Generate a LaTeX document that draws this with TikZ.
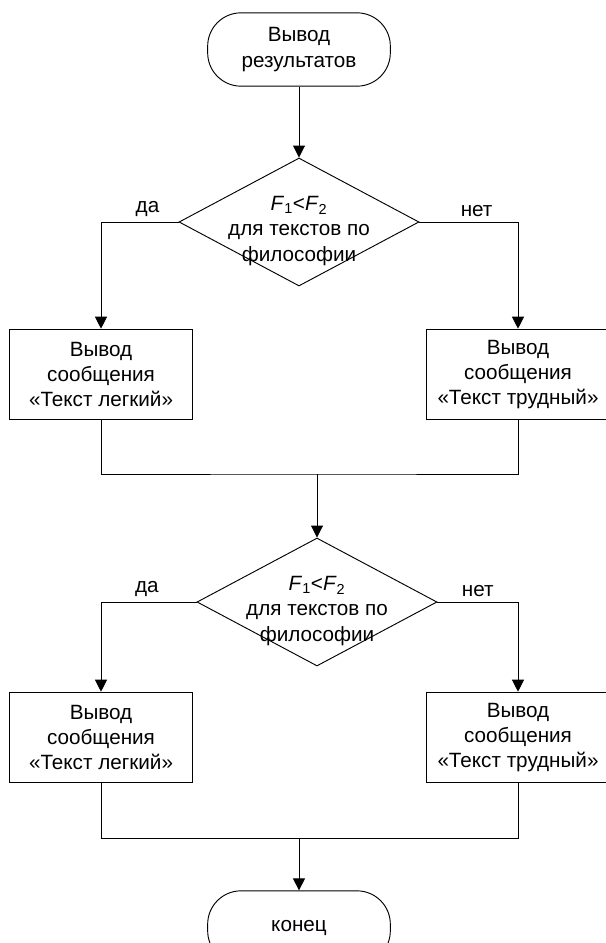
\documentclass[tikz,border=0pt]{standalone}
\usepackage{fontspec}
\setmainfont{Liberation Sans}
\usepackage{tikz}
\usetikzlibrary{shapes.geometric,arrows.meta}

\tikzset{
  term/.style={draw, rectangle, rounded corners=25pt, line width=0.7pt,
    minimum width=137pt, minimum height=55pt, align=center},
  outbox/.style={draw, rectangle, line width=0.7pt,
    minimum width=137pt, minimum height=68pt, align=center},
  cond/.style={draw, diamond, line width=0.7pt, inner sep=0pt,
    minimum width=180pt, minimum height=96pt},
  condtext/.style={align=center, inner sep=0pt},
  conn/.style={line width=0.7pt},
  arr/.style={line width=0.7pt, -{Triangle[width=9pt,length=9pt]}}
}

\begin{document}
\begin{tikzpicture}[x=0.75pt, y=-0.75pt, font=\fontsize{15.5}{19}\selectfont]
  \useasboundingbox (0,0) rectangle (606,943);

  % Start
  \node[term] (start) at (299,49.5) {Вывод\\результатов};

  % First condition
  \node[condtext] (cond1txt) at (299,231)
    {\textit{F}\textsubscript{1}<\textit{F}\textsubscript{2}\\для текстов по\\философии};
  \node[cond] (cond1) at (299,222) {};

  % Messages after first condition
  \node[outbox] (easy1) at (101,374.5) {Вывод\\сообщения\\«Текст легкий»};
  \node[outbox] (hard1) at (518,374.5) {Вывод\\сообщения\\«Текст трудный»};

  % Second condition
  \node[condtext] (cond2txt) at (317,611)
    {\textit{F}\textsubscript{1}<\textit{F}\textsubscript{2}\\для текстов по\\философии};
  \node[cond] (cond2) at (317,602) {};

  % Messages after second condition
  \node[outbox] (easy2) at (101,737.5) {Вывод\\сообщения\\«Текст легкий»};
  \node[outbox] (hard2) at (518,737.5) {Вывод\\сообщения\\«Текст трудный»};

  % End
  \node[term] (finish) at (299,927.5) {конец};

  % Joins
  \coordinate (join1) at (317,474);
  \coordinate (join2) at (299,838);

  % Start to first condition
  \draw[arr] (start.south) -- (cond1.north);

  % Branches of first condition
  \draw[arr] (cond1.west) -| node[pos=0.2, above] {да} (easy1.north);
  \draw[arr] (cond1.east) -| node[pos=0.29, above] {нет} (hard1.north);

  % Merge to second condition
  \draw[conn] (easy1.south) |- (join1) -| (hard1.south);
  \draw[arr] (join1) -- (cond2.north);

  % Branches of second condition
  \draw[arr] (cond2.west) -| node[pos=0.26, above] {да} (easy2.north);
  \draw[arr] (cond2.east) -| node[pos=0.25, above] {нет} (hard2.north);

  % Merge to end
  \draw[conn] (easy2.south) |- (join2) -| (hard2.south);
  \draw[arr] (join2) -- (finish.north);
\end{tikzpicture}
\end{document}
